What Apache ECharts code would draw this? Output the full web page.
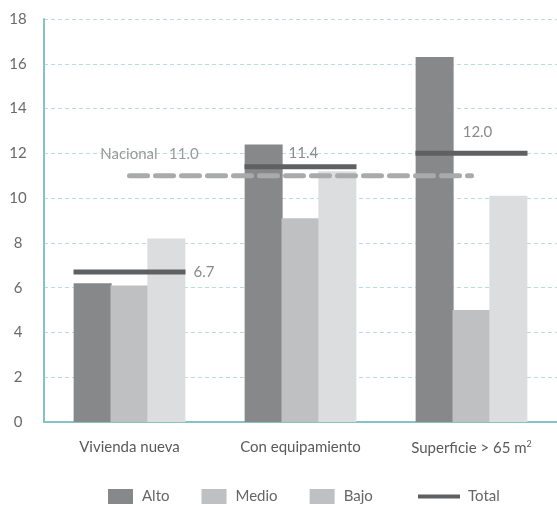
<!DOCTYPE html>
<html>
<head>
<meta charset="utf-8">
<script src="https://cdn.jsdelivr.net/npm/echarts@6/dist/echarts.min.js"></script>
<style>
  html, body { margin: 0; padding: 0; background: #fff; }
  #chart { width: 557px; height: 505px; }
</style>
</head>
<body>
<div id="chart"></div>
<script>
// Categories and values
const categories = ['Vivienda nueva', 'Con equipamiento', 'Superficie > 65 m²'];
const alto  = [6.2, 12.4, 16.3];
const medio = [6.1, 9.1, 5.0];
const bajo  = [8.2, 11.2, 10.1];
const total = [6.7, 11.4, 12.0];
const nacional = 11.0;
const yTicks = [0, 2, 4, 6, 8, 10, 12, 14, 16, 18];

const FONT = 'Lato, "Open Sans", sans-serif';
const BAR_W = 38;
const COL_ALTO = '#87888a', COL_MEDIO = '#bfc0c2', COL_BAJO = '#dcdddf';
const COL_TOTAL = '#5f6062';

// Label placement for the Total markers, per category: [dx from group centre, dy from line, align]
const totalLabelPos = [
  { dx: 56 + 8, dy: 0, align: 'left' },
  { dx: -12, dy: -14, align: 'left' },
  { dx: 6, dy: -21, align: 'center' }
];

const chart = echarts.init(document.getElementById('chart'), null, { renderer: 'canvas' });

// Adjacent bars overlap a little so the three shades sit flush against each other
const barSeries = (name, data, color) => ({
  name, type: 'bar', data,
  barWidth: BAR_W, barGap: '-3%',
  itemStyle: { color, borderWidth: 0, borderRadius: 0 },
  z: 2
});

const option = {
  animation: false,
  textStyle: { fontFamily: FONT },
  grid: { left: 44, right: 0, top: 19, bottom: 83 },
  xAxis: {
    type: 'category',
    data: categories,
    axisLine: { lineStyle: { color: '#86c3c4', width: 2 } },
    axisTick: { show: false },
    axisLabel: {
      interval: 0,
      color: '#5a5a5a', fontSize: 15, margin: 18, fontFamily: FONT,
      formatter: v => v.replace('m²', 'm{sup|2}'),
      rich: { sup: { fontSize: 9, verticalAlign: 'top', padding: [0, 0, 8, 0], color: '#5a5a5a', fontFamily: FONT } }
    }
  },
  yAxis: {
    type: 'value',
    min: yTicks[0],
    max: yTicks[yTicks.length - 1],
    interval: 2,
    axisLine: { show: true, lineStyle: { color: '#86c3c4', width: 2 } },
    axisTick: { show: false },
    axisLabel: { color: '#6a6a6a', fontSize: 15, margin: 26, align: 'center', fontFamily: FONT },
    splitLine: { lineStyle: { color: '#b9dcdd', type: [4, 3], width: 1 } }
  },
  legend: [
    {
      left: 108, top: 489, padding: 0,
      itemWidth: 25, itemHeight: 15, itemGap: 32,
      icon: 'rect',
      textStyle: { color: '#666', fontSize: 15, fontFamily: FONT, padding: [0, 0, 0, 4] },
      data: [
        { name: 'Alto' },
        { name: 'Medio' },
        { name: 'Bajo', itemStyle: { color: COL_MEDIO } }
      ]
    },
    {
      left: 418, top: 489, padding: 0,
      itemWidth: 42, itemHeight: 4,
      icon: 'rect',
      textStyle: { color: '#666', fontSize: 15, fontFamily: FONT, padding: [0, 0, 0, 3] },
      data: ['Total']
    }
  ],
  series: [
    barSeries('Alto', alto, COL_ALTO),
    barSeries('Medio', medio, COL_MEDIO),
    barSeries('Bajo', bajo, COL_BAJO),
    {
      name: 'Nacional',
      type: 'line',
      data: categories.map(() => nacional),
      symbol: 'none',
      z: 3,
      lineStyle: { color: '#a9aaab', width: 5, type: [18, 8], cap: 'round' },
      markPoint: {
        symbol: 'rect',
        symbolSize: 1,
        itemStyle: { color: 'rgba(0,0,0,0)' },
        data: [{ coord: [0, nacional], value: nacional }],
        label: {
          show: true,
          position: 'top',
          formatter: p => 'Nacional   ' + Number(p.value).toFixed(1),
          color: '#9a9a9a', fontSize: 15, fontFamily: FONT,
          offset: [20, -9]
        }
      }
    },
    {
      name: 'Total',
      type: 'custom',
      data: total.map((v, i) => [i, v]),
      itemStyle: { color: COL_TOTAL },
      z: 4,
      renderItem: (params, api) => {
        const i = api.value(0);
        const pt = api.coord([i, api.value(1)]);
        const w = 112;
        const lp = totalLabelPos[i];
        return {
          type: 'group',
          children: [
            {
              type: 'rect',
              shape: { x: pt[0] - w / 2, y: pt[1] - 2.5, width: w, height: 5 },
              style: { fill: COL_TOTAL }
            },
            {
              type: 'text',
              x: pt[0] + lp.dx, y: pt[1] + lp.dy,
              style: {
                text: api.value(1).toFixed(1),
                fill: '#8a8a8a', font: '15px ' + FONT,
                align: lp.align, verticalAlign: 'middle'
              }
            }
          ]
        };
      }
    }
  ]
};

chart.setOption(option);
</script>
</body>
</html>
